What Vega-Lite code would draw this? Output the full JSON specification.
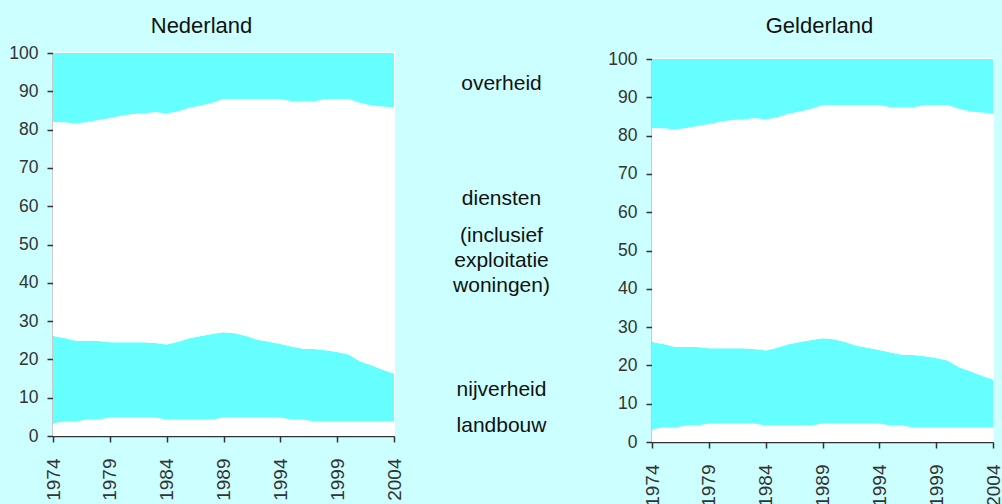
{
  "$schema": "https://vega.github.io/schema/vega-lite/v6.json",
  "background": "#ccffff",
  "padding": {"left": 7, "top": 15, "right": 0, "bottom": 0},
  "spacing": 5,
  "config": {
    "font": "Liberation Sans",
    "view": {"fill": "white", "stroke": "white", "strokeWidth": 2},
    "axis": {
      "grid": false,
      "domainColor": "#333333",
      "tickColor": "#333333",
      "labelColor": "#333333",
      "domainWidth": 1.5,
      "tickWidth": 1.5,
      "tickSize": 6,
      "title": null,
      "labelFont": "Liberation Sans"
    },
    "title": {"font": "Liberation Sans", "fontSize": 22, "fontWeight": "normal", "color": "#111111"}
  },
  "datasets": {
    "shares": [
      {"year": 1974, "landbouw": 3.3, "nijverheid": 22.8, "diensten": 55.9, "overheid": 18.0},
      {"year": 1975, "landbouw": 3.8, "nijverheid": 21.8, "diensten": 56.3, "overheid": 18.1},
      {"year": 1976, "landbouw": 3.8, "nijverheid": 21.1, "diensten": 56.7, "overheid": 18.4},
      {"year": 1977, "landbouw": 4.3, "nijverheid": 20.6, "diensten": 57.1, "overheid": 18.0},
      {"year": 1978, "landbouw": 4.3, "nijverheid": 20.5, "diensten": 57.7, "overheid": 17.5},
      {"year": 1979, "landbouw": 4.8, "nijverheid": 19.7, "diensten": 58.5, "overheid": 17.0},
      {"year": 1980, "landbouw": 4.8, "nijverheid": 19.7, "diensten": 59.1, "overheid": 16.4},
      {"year": 1981, "landbouw": 4.8, "nijverheid": 19.7, "diensten": 59.6, "overheid": 15.9},
      {"year": 1982, "landbouw": 4.8, "nijverheid": 19.7, "diensten": 59.7, "overheid": 15.8},
      {"year": 1983, "landbouw": 4.8, "nijverheid": 19.5, "diensten": 60.3, "overheid": 15.4},
      {"year": 1984, "landbouw": 4.3, "nijverheid": 19.6, "diensten": 60.3, "overheid": 15.8},
      {"year": 1985, "landbouw": 4.3, "nijverheid": 20.3, "diensten": 60.2, "overheid": 15.2},
      {"year": 1986, "landbouw": 4.3, "nijverheid": 21.2, "diensten": 60.2, "overheid": 14.3},
      {"year": 1987, "landbouw": 4.3, "nijverheid": 21.8, "diensten": 60.2, "overheid": 13.7},
      {"year": 1988, "landbouw": 4.3, "nijverheid": 22.3, "diensten": 60.4, "overheid": 13.0},
      {"year": 1989, "landbouw": 4.8, "nijverheid": 22.3, "diensten": 60.9, "overheid": 12.0},
      {"year": 1990, "landbouw": 4.8, "nijverheid": 22.0, "diensten": 61.2, "overheid": 12.0},
      {"year": 1991, "landbouw": 4.8, "nijverheid": 21.3, "diensten": 61.9, "overheid": 12.0},
      {"year": 1992, "landbouw": 4.8, "nijverheid": 20.3, "diensten": 62.9, "overheid": 12.0},
      {"year": 1993, "landbouw": 4.8, "nijverheid": 19.8, "diensten": 63.4, "overheid": 12.0},
      {"year": 1994, "landbouw": 4.8, "nijverheid": 19.2, "diensten": 64.0, "overheid": 12.0},
      {"year": 1995, "landbouw": 4.3, "nijverheid": 19.1, "diensten": 64.0, "overheid": 12.6},
      {"year": 1996, "landbouw": 4.3, "nijverheid": 18.5, "diensten": 64.6, "overheid": 12.6},
      {"year": 1997, "landbouw": 3.8, "nijverheid": 18.9, "diensten": 64.7, "overheid": 12.6},
      {"year": 1998, "landbouw": 3.8, "nijverheid": 18.6, "diensten": 65.6, "overheid": 12.0},
      {"year": 1999, "landbouw": 3.8, "nijverheid": 18.1, "diensten": 66.1, "overheid": 12.0},
      {"year": 2000, "landbouw": 3.8, "nijverheid": 17.5, "diensten": 66.7, "overheid": 12.0},
      {"year": 2001, "landbouw": 3.8, "nijverheid": 15.7, "diensten": 67.5, "overheid": 13.0},
      {"year": 2002, "landbouw": 3.8, "nijverheid": 14.7, "diensten": 67.8, "overheid": 13.7},
      {"year": 2003, "landbouw": 3.8, "nijverheid": 13.5, "diensten": 68.7, "overheid": 14.0},
      {"year": 2004, "landbouw": 3.8, "nijverheid": 12.5, "diensten": 69.5, "overheid": 14.2}
    ],
    "sectors": [
      {"sector": "landbouw", "ord": 1},
      {"sector": "nijverheid", "ord": 2},
      {"sector": "diensten", "ord": 3},
      {"sector": "overheid", "ord": 4}
    ],
    "labels": [
      {"label": "overheid", "pos": 92.4},
      {"label": "diensten", "pos": 62.4},
      {"label": "(inclusief", "pos": 52.8},
      {"label": "exploitatie", "pos": 46.3},
      {"label": "woningen)", "pos": 39.8},
      {"label": "nijverheid", "pos": 12.6},
      {"label": "landbouw", "pos": 3.1}
    ]
  },
  "hconcat": [
    {
      "spacing": 0,
      "vconcat": [
        {
          "title": {"text": "Nederland", "offset": 4, "anchor": "middle", "dx": -22},
          "width": 341,
          "height": 1,
          "view": {"fill": null, "stroke": null},
          "data": {"values": []},
          "mark": {"type": "rect"},
          "encoding": {}
        },
        {
          "width": 341,
          "height": 383,
          "data": {"name": "shares"},
          "transform": [
            {"fold": ["landbouw", "nijverheid", "diensten", "overheid"], "as": ["sector", "share"]},
            {"lookup": "sector", "from": {"data": {"name": "sectors"}, "key": "sector", "fields": ["ord"]}},
            {"stack": "share", "groupby": ["year"], "sort": [{"field": "ord", "order": "ascending"}], "as": ["y0", "y1"]}
          ],
          "mark": {"type": "area", "interpolate": "linear"},
          "encoding": {
            "x": {"field": "year", "type": "quantitative", "scale": {"domain": [1974, 2004], "nice": false, "zero": false},
              "axis": {"values": [1974, 1979, 1984, 1989, 1994, 1999, 2004], "format": "d", "labelAngle": -90, "labelFontSize": 19, "labelPadding": 16}},
            "y": {"field": "y0", "type": "quantitative", "scale": {"domain": [0, 100], "nice": false},
              "axis": {"values": [0, 10, 20, 30, 40, 50, 60, 70, 80, 90, 100], "labelFontSize": 17.5, "labelPadding": 9}},
            "y2": {"field": "y1"},
            "color": {"field": "sector", "type": "nominal", "legend": null,
              "scale": {"domain": ["landbouw", "nijverheid", "diensten", "overheid"], "range": ["#ffffff", "#66ffff", "#ffffff", "#66ffff"]}}
          }
        }
      ]
    },
    {
      "spacing": 12,
      "vconcat": [
        {
          "title": {"text": " ", "offset": 4, "anchor": "middle"},
          "width": 191,
          "height": 1,
          "view": {"fill": null, "stroke": null},
          "data": {"values": []},
          "mark": {"type": "rect"},
          "encoding": {}
        },
        {
          "width": 191,
          "height": 383,
          "view": {"fill": null, "stroke": null},
          "data": {"name": "labels"},
          "mark": {"type": "text", "fontSize": 21, "font": "Liberation Sans", "color": "#111111", "align": "center", "baseline": "middle", "dx": -4},
          "encoding": {
            "y": {"field": "pos", "type": "quantitative", "scale": {"domain": [0, 100], "nice": false}, "axis": null},
            "text": {"field": "label"}
          }
        }
      ]
    },
    {
      "spacing": 6,
      "vconcat": [
        {
          "title": {"text": "Gelderland", "offset": 4, "anchor": "middle", "dx": -3},
          "width": 341,
          "height": 1,
          "view": {"fill": null, "stroke": null},
          "data": {"values": []},
          "mark": {"type": "rect"},
          "encoding": {}
        },
        {
          "width": 341,
          "height": 383,
          "data": {"name": "shares"},
          "transform": [
            {"fold": ["landbouw", "nijverheid", "diensten", "overheid"], "as": ["sector", "share"]},
            {"lookup": "sector", "from": {"data": {"name": "sectors"}, "key": "sector", "fields": ["ord"]}},
            {"stack": "share", "groupby": ["year"], "sort": [{"field": "ord", "order": "ascending"}], "as": ["y0", "y1"]}
          ],
          "mark": {"type": "area", "interpolate": "linear"},
          "encoding": {
            "x": {"field": "year", "type": "quantitative", "scale": {"domain": [1974, 2004], "nice": false, "zero": false},
              "axis": {"values": [1974, 1979, 1984, 1989, 1994, 1999, 2004], "format": "d", "labelAngle": -90, "labelFontSize": 19, "labelPadding": 16}},
            "y": {"field": "y0", "type": "quantitative", "scale": {"domain": [0, 100], "nice": false},
              "axis": {"values": [0, 10, 20, 30, 40, 50, 60, 70, 80, 90, 100], "labelFontSize": 17.5, "labelPadding": 9}},
            "y2": {"field": "y1"},
            "color": {"field": "sector", "type": "nominal", "legend": null,
              "scale": {"domain": ["landbouw", "nijverheid", "diensten", "overheid"], "range": ["#ffffff", "#66ffff", "#ffffff", "#66ffff"]}}
          }
        }
      ]
    }
  ]
}
